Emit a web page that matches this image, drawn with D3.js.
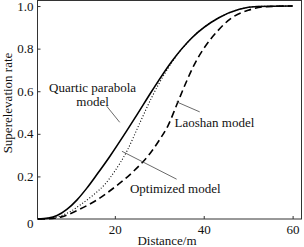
<!DOCTYPE html>
<html>
<head>
<meta charset="utf-8">
<script src="https://cdn.jsdelivr.net/npm/d3@7"></script>
<style>
  body { margin: 0; background: #fff; }
  svg { display: block; }
  svg text { font-family: "Liberation Serif", "Times New Roman", "DejaVu Serif", serif; }
</style>
</head>
<body>
<div id="vis"></div>
<script>
// frame
const FRAME_WIDTH = 304;
const FRAME_HEIGHT = 247;
const FONT = "'Liberation Serif', 'Times New Roman', serif";
const FONT_SIZE = "13px";

// data: distance (m) and superelevation rate for each model
const QUARTIC_X = [2.7, 5, 7, 9.2, 11.5, 13.7, 16, 18.9, 22.7, 25, 28.3, 32.8, 37.3, 43.4, 48, 52, 60];
const QUARTIC_Y = [0, 0.004, 0.016, 0.045, 0.09, 0.145, 0.21, 0.295, 0.415, 0.49, 0.6, 0.74, 0.85, 0.945, 0.985, 0.998, 1.0];

const OPTIMIZED_X = [2.7, 5, 7.7, 10, 12.2, 15, 17.8, 20, 22.7, 25.6, 28.3, 31.3, 34, 37.3, 43.4, 48, 52, 60];
const OPTIMIZED_Y = [0, 0.003, 0.014, 0.035, 0.066, 0.11, 0.164, 0.225, 0.318, 0.45, 0.571, 0.685, 0.77, 0.85, 0.945, 0.985, 0.998, 1.0];

const LAOSHAN_X = [2.7, 5, 8, 12, 16, 20, 24, 28, 30, 32, 34, 36, 38, 40, 43, 46, 50, 54, 60];
const LAOSHAN_Y = [0, 0.001, 0.01, 0.045, 0.09, 0.15, 0.22, 0.31, 0.37, 0.44, 0.54, 0.64, 0.73, 0.8, 0.88, 0.94, 0.98, 0.997, 1.0];

const X_TICKS = [20, 40, 60];
const Y_TICKS = [0, 0.2, 0.4, 0.6, 0.8, 1.0];

// labels with leader lines (data units)
const NOTES = [
  {lines: ["Quartic parabola", "model"], tx: 15.0, ty: 0.62, from: [18.2, 0.529], to: [21.1, 0.454]},
  {lines: ["Laoshan model"], tx: 42.4, ty: 0.455, from: [33.9, 0.55], to: [39.1, 0.503]},
  {lines: ["Optimized model"], tx: 33.6, ty: 0.145, from: [21.6, 0.318], to: [33.9, 0.187]}
];

const PLOT = {left: 37.5, right: 301.5, top: 0.5, bottom: 219};

const X_SCALE = d3.scaleLinear().domain([2.6, 62]).range([PLOT.left, PLOT.right]);
const Y_SCALE = d3.scaleLinear().domain([0, 1.026]).range([PLOT.bottom, PLOT.top]);

const SVG = d3.select("#vis")
              .append("svg")
                .attr("width", FRAME_WIDTH)
                .attr("height", FRAME_HEIGHT);

// box around plot
SVG.append("rect")
    .attr("x", PLOT.left)
    .attr("y", PLOT.top)
    .attr("width", PLOT.right - PLOT.left)
    .attr("height", PLOT.bottom - PLOT.top)
    .attr("fill", "none")
    .attr("stroke", "#333")
    .attr("stroke-width", 1);

// x axis, ticks pointing in
const xAxis = SVG.append("g")
    .attr("transform", "translate(0," + PLOT.bottom + ")")
    .call(d3.axisBottom(X_SCALE).tickValues(X_TICKS).tickSizeInner(-3).tickSizeOuter(0).tickPadding(6));
xAxis.attr("font-family", FONT);
xAxis.select(".domain").remove();
xAxis.selectAll("text").attr("font-size", FONT_SIZE).attr("fill", "#111");
xAxis.selectAll("line").attr("stroke", "#333");

// y axis
const yAxis = SVG.append("g")
    .attr("transform", "translate(" + PLOT.left + ",0)")
    .call(d3.axisLeft(Y_SCALE).tickValues(Y_TICKS)
            .tickFormat((d) => { return d === 0 ? "0" : d3.format(".1f")(d); })
            .tickSizeInner(-3).tickSizeOuter(0).tickPadding(4));
yAxis.attr("font-family", FONT);
yAxis.select(".domain").remove();
yAxis.selectAll("text").attr("font-size", FONT_SIZE).attr("fill", "#111");
yAxis.selectAll("line").attr("stroke", "#333");
yAxis.selectAll(".tick").filter((d) => { return d === 0; })
     .select("text").attr("dy", "0.65em");

// axis titles
SVG.append("text")
    .attr("x", 167)
    .attr("y", 245)
    .attr("text-anchor", "middle")
    .attr("font-size", FONT_SIZE)
    .attr("fill", "#111")
    .text("Distance/m");

SVG.append("text")
    .attr("transform", "translate(12,103) rotate(-90)")
    .attr("text-anchor", "middle")
    .attr("font-size", FONT_SIZE)
    .attr("fill", "#111")
    .text("Superelevation rate");

// curves
const SERIES = [
  {xs: QUARTIC_X, ys: QUARTIC_Y, width: 1.6, dash: null},
  {xs: OPTIMIZED_X, ys: OPTIMIZED_Y, width: 1.1, dash: "1,2"},
  {xs: LAOSHAN_X, ys: LAOSHAN_Y, width: 1.6, dash: "7,4"}
];

const line = d3.line()
    .x((d) => { return X_SCALE(d[0]); })
    .y((d) => { return Y_SCALE(d[1]); })
    .curve(d3.curveMonotoneX);

SERIES.forEach((s) => {
  SVG.append("path")
      .datum(d3.zip(s.xs, s.ys))
      .attr("d", line)
      .attr("fill", "none")
      .attr("stroke", "#000")
      .attr("stroke-width", s.width)
      .attr("stroke-dasharray", s.dash);
});

// annotations
NOTES.forEach((n) => {
  SVG.append("line")
      .attr("x1", X_SCALE(n.from[0])).attr("y1", Y_SCALE(n.from[1]))
      .attr("x2", X_SCALE(n.to[0])).attr("y2", Y_SCALE(n.to[1]))
      .attr("stroke", "#444")
      .attr("stroke-width", 0.8);
  n.lines.forEach((t, i) => {
    SVG.append("text")
        .attr("x", X_SCALE(n.tx))
        .attr("y", Y_SCALE(n.ty) + i * 14)
        .attr("dy", "0.35em")
        .attr("text-anchor", "middle")
        .attr("font-size", FONT_SIZE)
        .attr("fill", "#111")
        .text(t);
  });
});
</script>
</body>
</html>
